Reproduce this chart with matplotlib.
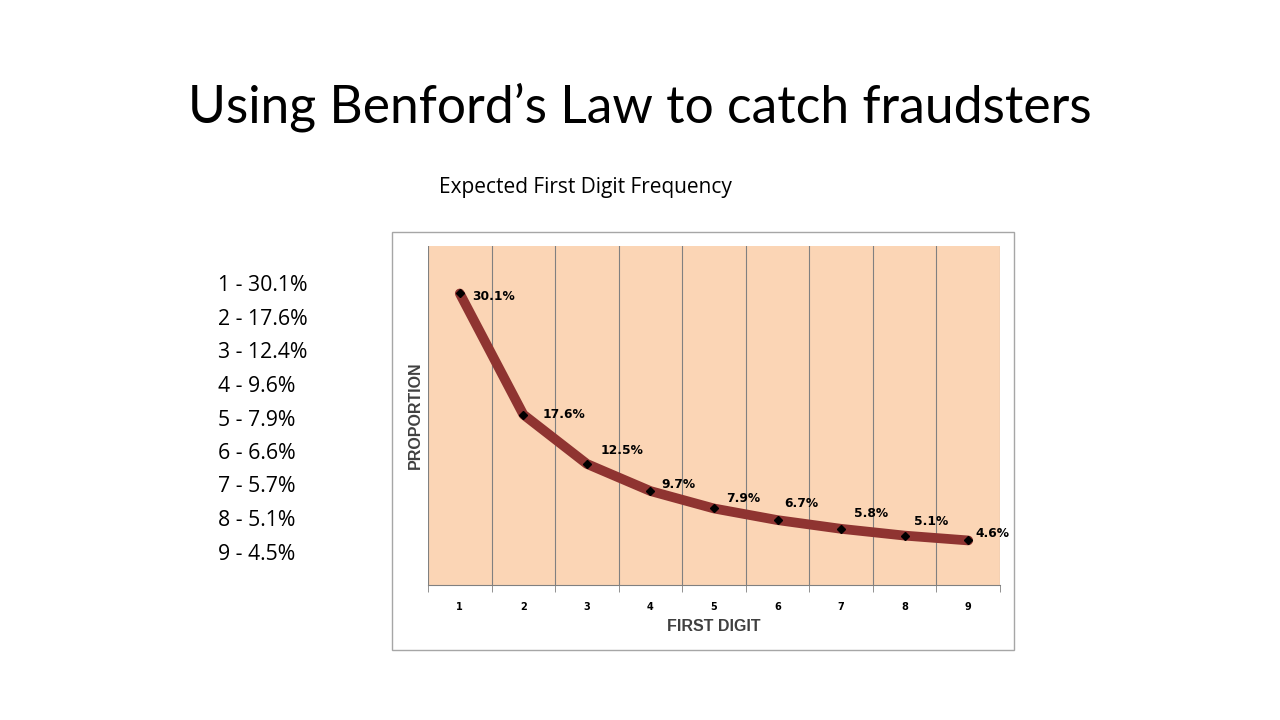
import matplotlib
matplotlib.use("Agg")
import matplotlib.pyplot as plt
from matplotlib.patches import Rectangle
import numpy as np

digits = [1, 2, 3, 4, 5, 6, 7, 8, 9]
proportion = [30.1, 17.6, 12.5, 9.7, 7.9, 6.7, 5.8, 5.1, 4.6]
point_labels = ["30.1%", "17.6%", "12.5%", "9.7%", "7.9%", "6.7%", "5.8%", "5.1%", "4.6%"]
side_list = ["1 - 30.1%", "2 - 17.6%", "3 - 12.4%", "4 - 9.6%", "5 - 7.9%",
             "6 - 6.6%", "7 - 5.7%", "8 - 5.1%", "9 - 4.5%"]
title = "Using Benford\u2019s Law to catch fraudsters"
subtitle = "Expected First Digit Frequency"

# label offsets in points (style)
label_offsets = [(9, -2), (14, 0), (10, 10), (8, 5), (9, 7), (5, 12), (9, 11), (7, 10), (5, 5)]

W, H = 1280, 720
fig = plt.figure(figsize=(12.8, 7.2), dpi=100)
fig.patch.set_facecolor("white")

# chart outer box
fig.patches.append(Rectangle((392 / W, 1 - 650 / H), (1014 - 392) / W, (650 - 232) / H,
                             transform=fig.transFigure, facecolor="none",
                             edgecolor="#a6a6a6", linewidth=1.0, zorder=0))

ax = fig.add_axes([428 / W, 1 - 585 / H, (1000 - 428) / W, (585 - 246) / H])
ax.set_zorder(2)
ax.set_facecolor("#fbd5b5")
ax.set_xlim(0.5, 9.5)
ax.set_ylim(0, 35)

for xb in np.arange(0.5, 9.6, 1.0):
    ax.axvline(xb, color="#808080", linewidth=0.8, zorder=1)

ax.plot(digits, proportion, color="#8f3431", linewidth=7, solid_capstyle="round",
        solid_joinstyle="round", zorder=3)
ax.plot(digits, proportion, linestyle="none", marker="D", markersize=4,
        color="black", zorder=4)

for x, y, lab, off in zip(digits, proportion, point_labels, label_offsets):
    ax.annotate(lab, (x, y), xytext=off, textcoords="offset points",
                fontsize=8.8, fontweight="bold", family="DejaVu Sans",
                ha="left", va="center", color="black", zorder=5)

for s in ["top", "right", "left"]:
    ax.spines[s].set_visible(False)
ax.spines["bottom"].set_color("#808080")
ax.spines["bottom"].set_linewidth(0.8)

ax.set_xticks(digits)
ax.set_xticklabels([str(d) for d in digits], fontsize=7, fontweight="bold")
ax.tick_params(axis="x", which="major", length=0, pad=12)
ax.set_xticks(np.arange(0.5, 9.6, 1.0), minor=True)
ax.tick_params(axis="x", which="minor", length=5, color="#808080", direction="out")
ax.set_yticks([])

ax.set_xlabel("FIRST DIGIT", fontsize=11.5, fontweight="bold", color="#404040",
              family="Liberation Sans", labelpad=5)
ax.set_ylabel("PROPORTION", fontsize=11.5, fontweight="bold", color="#404040",
              family="Liberation Sans", labelpad=4)

fig.text(640 / W, 1 - 107 / H, title, ha="center", va="center", fontsize=37.2,
         family="Lato", color="black")
fig.text(585 / W, 1 - 187 / H, subtitle, ha="center", va="center", fontsize=15,
         family="Open Sans", color="black")

for i, line in enumerate(side_list):
    fig.text(218 / W, 1 - (286 + i * 33.5) / H, line, ha="left", va="center",
             fontsize=15.3, family="Open Sans", color="black")

fig.savefig("out.png", dpi=100, facecolor="white")
